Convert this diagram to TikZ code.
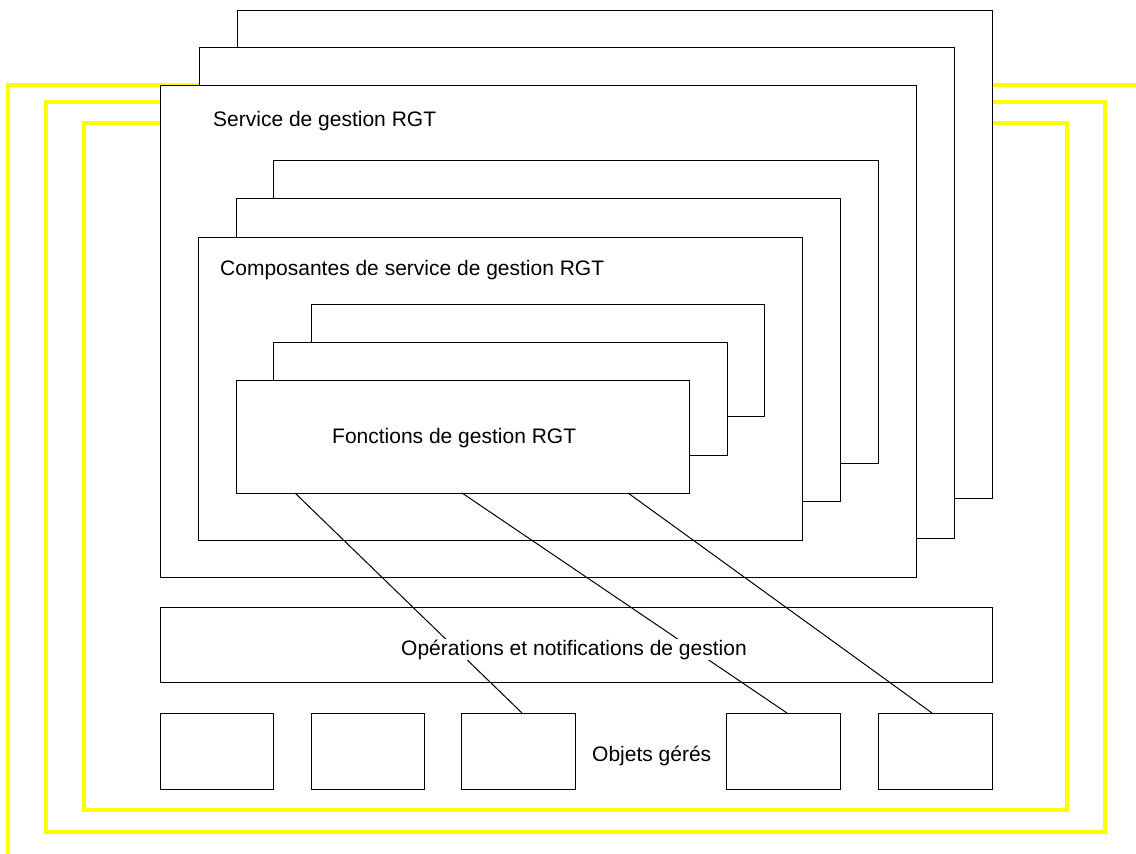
\documentclass[tikz,border=0pt]{standalone}
\usepackage{fontspec}
\setmainfont{Liberation Sans}
\usetikzlibrary{calc}
\definecolor{frameyellow}{RGB}{255,255,0}
\tikzset{
  box/.style={draw=black, line width=1pt, fill=white, anchor=north west, inner sep=0pt, outer sep=0pt},
  yframe/.style={draw=frameyellow, line width=4pt},
  lbl/.style={font=\fontsize{21}{25}\selectfont, inner sep=1pt, fill=white, anchor=base west},
  link/.style={draw=black, line width=1pt}
}
\begin{document}
\begin{tikzpicture}[x=1pt, y=-1pt]
\useasboundingbox (0,0) rectangle (1136,854);
% yellow frames
\draw[yframe] (1150,85) -- (8,85) -- (8,855.5) -- (1150,855.5);
\draw[yframe] (46,102) rectangle (1105,832);
\draw[yframe] (84,123) rectangle (1067,810);
% service stack
\node[box, minimum width=755pt, minimum height=488pt] (s3) at (237,10) {};
\node[box, minimum width=755pt, minimum height=491pt] (s2) at (199,47) {};
\node[box, minimum width=756pt, minimum height=492pt] (s1) at (160,85) {};
% component stack
\node[box, minimum width=605pt, minimum height=303pt] (c3) at (273,160) {};
\node[box, minimum width=604pt, minimum height=303pt] (c2) at (236,198) {};
\node[box, minimum width=604pt, minimum height=303pt] (c1) at (198,237) {};
% function stack
\node[box, minimum width=453pt, minimum height=112pt] (f3) at (311,304) {};
\node[box, minimum width=454pt, minimum height=113pt] (f2) at (273,342) {};
\node[box, minimum width=453pt, minimum height=113pt] (f1) at (236,380) {};
% operations box
\node[box, minimum width=832pt, minimum height=75pt] (ops) at (160,607) {};
% managed objects
\node[box, minimum width=113pt, minimum height=76pt] (o1) at (160,713) {};
\node[box, minimum width=113pt, minimum height=76pt] (o2) at (311,713) {};
\node[box, minimum width=114pt, minimum height=76pt] (o3) at (461,713) {};
\node[box, minimum width=114pt, minimum height=76pt] (o4) at (726,713) {};
\node[box, minimum width=114pt, minimum height=76pt] (o5) at (878,713) {};
% links
\draw[link] ($(f1.south west)+(59,0)$) -- ($(o3.north west)+(61,0)$);
\draw[link] ($(f1.south west)+(226,0)$) -- ($(o4.north west)+(61,0)$);
\draw[link] ($(f1.south west)+(392,0)$) -- ($(o5.north west)+(54,0)$);
% labels
\node[lbl] (ls) at (212,126) {Service de gestion RGT};
\node[lbl] (lc) at (219,275) {Composantes de service de gestion RGT};
\node[lbl] (lf) at (331,443) {Fonctions de gestion RGT};
\node[lbl] (lo) at (400,655) {Opérations et notifications de gestion};
\node[lbl] (lg) at (591,761) {Objets gérés};
\end{tikzpicture}
\end{document}
